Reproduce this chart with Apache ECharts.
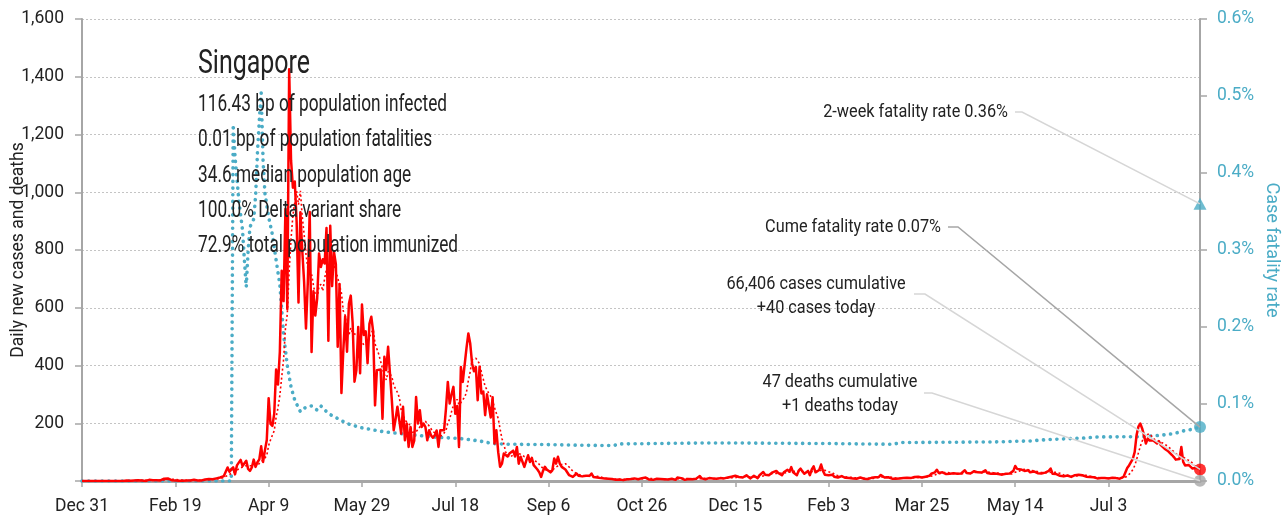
<!DOCTYPE html>
<html>
<head>
<meta charset="utf-8">
<title>Singapore – daily cases and case fatality rate</title>
<script src="https://cdn.jsdelivr.net/npm/echarts@6/dist/echarts.min.js"></script>
<style>
  html, body { margin: 0; padding: 0; background: #fff; }
  #chart { width: 1288px; height: 520px; }
</style>
</head>
<body>
<div id="chart"></div>
<script>
// ---------- data ----------
// day 0 = Dec 31, 2019; the last day (599) is Aug 21, 2021
const dayTicks = [0, 50, 100, 150, 200, 250, 300, 350, 400, 450, 500, 550];
const dayTickLabels = ['Dec 31', 'Feb 19', 'Apr 9', 'May 29', 'Jul 18', 'Sep 6',
                       'Oct 26', 'Dec 15', 'Feb 3', 'Mar 25', 'May 14', 'Jul 3'];
const caseTickLabels = ['', '200', '400', '600', '800', '1,000', '1,200', '1,400', '1,600'];
const rateTickLabels = ['0.0%', '0.1%', '0.2%', '0.3%', '0.4%', '0.5%', '0.6%'];

// daily new cases, one value per day from Dec 31, 2019
const cases = [
  0,
  // 2020 Jan
  0,0,0,0,0,0,0,0,0,0,0,0,0,0,0,0,0,0,0,0,0,0,1,2,0,1,1,2,3,3,3,
  // Feb
  2,2,0,6,4,2,3,7,3,2,2,3,8,9,9,5,3,3,2,4,1,3,1,1,2,0,2,3,4,
  // Mar
  2,2,2,2,8,5,7,7,3,6,12,9,13,12,14,17,23,47,32,40,47,23,54,49,73,52,49,70,42,35,47,
  // Apr
  74,49,65,75,120,66,106,142,287,198,191,233,386,334,447,728,623,942,596,1426,
  1111,1016,1037,897,618,931,799,690,528,690,
  // May
  932,447,657,573,632,788,741,768,753,876,486,884,675,793,752,465,682,305,451,570,
  448,614,642,548,344,383,533,373,611,506,518,
  // Jun
  408,544,569,517,262,384,389,386,216,430,384,465,372,280,176,214,257,262,164,257,
  141,199,118,187,118,140,291,199,245,187,
  // Jul
  199,187,141,176,158,150,158,175,118,176,170,176,250,343,268,300,326,233,260,118,
  395,343,349,460,511,476,407,380,395,280,395,
  // Aug
  303,310,228,300,300,220,290,130,176,100,49,60,95,90,85,95,100,105,85,118,
  60,84,90,49,70,89,66,80,55,60,40,
  // Sep
  30,14,35,49,40,37,30,37,78,60,84,60,49,49,40,37,20,25,14,20,26,18,14,16,14,18,14,18,26,14,
  // Oct
  9,12,8,10,6,9,6,8,5,7,9,4,6,5,8,3,4,6,10,7,5,9,4,6,8,10,15,12,7,5,6,
  // Nov
  4,6,8,5,7,3,6,9,5,4,8,6,4,12,18,10,6,4,5,7,9,6,4,8,12,17,9,5,6,8,
  // Dec
  10,7,9,12,8,6,10,14,9,8,12,10,15,9,18,22,14,10,12,16,20,14,9,12,18,14,10,20,24,31,22,
  // 2021 Jan
  28,20,26,30,24,35,28,25,20,30,34,39,32,48,30,25,20,36,43,33,25,30,35,20,40,51,30,25,38,57,35,
  // Feb
  22,25,20,18,22,15,17,12,14,17,13,11,13,10,12,9,11,8,10,12,9,8,10,7,9,11,10,13,
  // Mar
  17,14,21,15,12,10,13,9,8,11,8,10,9,12,10,8,11,13,10,12,14,11,15,13,12,17,15,20,18,25,20,
  // Apr
  30,39,28,25,30,31,24,28,25,20,27,31,25,21,26,30,37,28,22,26,30,34,39,30,25,29,33,37,28,30,
  // May
  25,21,26,31,24,21,22,28,25,22,26,25,35,52,42,37,40,43,35,38,37,30,34,33,28,27,30,26,27,29,31,
  // Jun
  35,43,25,22,24,20,18,21,16,17,19,15,14,16,20,25,22,18,20,17,15,12,14,10,13,12,9,11,10,8,
  // Jul
  10,12,9,14,11,13,10,12,8,6,14,20,45,54,60,77,100,158,188,199,182,158,130,147,140,136,140,135,130,138,124,
  // Aug 1 - 21
  118,112,106,103,100,90,83,74,72,76,118,66,54,60,55,50,43,48,46,42,40
];

// cumulative case fatality rate, % (day, value)
const fatalityRate = [
  [0, 0], [80, 0], [81, 0.463], [82, 0.421], [84, 0.365], [86, 0.326], [87, 0.287],
  [88, 0.252], [89, 0.300], [90, 0.330], [92, 0.340], [93, 0.370], [94, 0.426],
  [95, 0.469], [96, 0.504], [97, 0.417], [98, 0.374], [100, 0.343], [102, 0.320],
  [104, 0.287], [106, 0.255], [108, 0.190], [110, 0.150], [112, 0.122], [114, 0.105],
  [117, 0.090], [120, 0.096], [123, 0.0975], [126, 0.092], [128, 0.0975], [132, 0.0876],
  [142, 0.0746], [149, 0.0695], [160, 0.0646], [170, 0.0616], [181, 0.059], [187, 0.0572],
  [203, 0.0551], [213, 0.052], [220, 0.0486], [229, 0.0477], [249, 0.0473], [267, 0.0464],
  [285, 0.046], [287, 0.0481], [335, 0.0494], [347, 0.0494], [401, 0.0486], [435, 0.0477],
  [438, 0.0499], [488, 0.0507], [508, 0.052], [517, 0.0538], [535, 0.0555], [544, 0.0572],
  [568, 0.0575], [578, 0.0594], [585, 0.0616], [590, 0.065], [594, 0.0668], [599, 0.07]
];

const lastDay = 599;
const casesToday = 40;
const casesCumulative = 66406;
const deathsToday = 1;
const deathsCumulative = 47;
const cumeFatalityRate = 0.07;
const twoWeekFatalityRate = 0.36;

const countryName = 'Singapore';
const countryFacts = [
  '116.43 bp of population infected',
  '0.01 bp of population fatalities',
  '34.6 median population age',
  '100.0% Delta variant share',
  '72.9% total population immunized'
];

// ---------- derived series ----------
const dailySeries = cases.map((v, i) => [i, v]);
// trailing 7-day mean of daily cases
const weeklyMean = cases.map((v, i) => {
  const from = Math.max(0, i - 6);
  let s = 0;
  for (let k = from; k <= i; k++) s += cases[k];
  return [i, +(s / (i - from + 1)).toFixed(1)];
});

// ---------- style ----------
const FONT = "Roboto, 'Liberation Sans', sans-serif";
const INK = '#222222';
const RED = '#ff0000';
const BLUE = '#4bacc6';
const AXIS = '#a6a6a6';
const fmt = n => n.toLocaleString('en-US');

// condensed look for the text blocks: squeeze the text horizontally
const measureCtx = document.createElement('canvas').getContext('2d');
const textWidth = (text, size) => {
  measureCtx.font = `${size}px ${FONT}`;
  return measureCtx.measureText(text).width;
};
const TITLE_SIZE = 33, FACT_SIZE = 23, NOTE_SIZE = 19;
const titleScale = 112 / textWidth(countryName, TITLE_SIZE);
const factScale = 249 / textWidth(countryFacts[0], FACT_SIZE);
const noteScale = 155 / textWidth(`${deathsCumulative} deaths cumulative`, NOTE_SIZE);

const chart = echarts.init(document.getElementById('chart'), null, { renderer: 'canvas' });

chart.setOption({
  animation: false,
  backgroundColor: '#fff',
  textStyle: { fontFamily: FONT },
  grid: { left: 82, right: 88, top: 19, bottom: 39, containLabel: false, outerBoundsMode: 'none' },
  xAxis: {
    type: 'value',
    min: 0,
    max: lastDay,
    interval: 50,
    axisLine: { show: true, onZero: false, lineStyle: { color: AXIS, width: 3 } },
    axisTick: { show: true, length: 6, customValues: dayTicks, lineStyle: { color: AXIS, width: 1.5 } },
    axisLabel: {
      customValues: dayTicks,
      margin: 17,
      fontSize: 17.5,
      fontFamily: FONT,
      color: INK,
      formatter: v => { const i = dayTicks.indexOf(v); return i < 0 ? '' : dayTickLabels[i]; }
    },
    splitLine: { show: false }
  },
  yAxis: [
    {
      type: 'value',
      min: 0,
      max: 1600,
      interval: 200,
      name: 'Daily new cases and deaths',
      nameLocation: 'middle',
      nameGap: 54,
      nameMoveOverlap: false,
      nameTextStyle: { fontSize: 17.5, fontFamily: FONT, color: INK },
      axisLine: { show: true, lineStyle: { color: AXIS, width: 2 } },
      axisTick: { show: true, length: 7, lineStyle: { color: AXIS, width: 1.5 } },
      axisLabel: {
        margin: 18,
        fontSize: 17.5,
        fontFamily: FONT,
        color: INK,
        formatter: v => caseTickLabels[Math.round(v / 200)]
      },
      splitLine: { show: true, lineStyle: { color: '#c4c4c4', width: 1, type: [2, 2] } }
    },
    {
      type: 'value',
      min: 0,
      max: 0.6,
      interval: 0.1,
      position: 'right',
      name: 'Case fatality rate',
      nameLocation: 'middle',
      nameRotate: -90,
      nameGap: 62,
      nameMoveOverlap: false,
      nameTextStyle: { fontSize: 18, fontFamily: FONT, color: BLUE },
      axisLine: { show: true, lineStyle: { color: AXIS, width: 2 } },
      axisTick: { show: true, length: 7, lineStyle: { color: AXIS, width: 1.5 } },
      axisLabel: {
        margin: 17,
        fontSize: 17.5,
        fontFamily: FONT,
        color: BLUE,
        formatter: v => rateTickLabels[Math.round(v * 10)]
      },
      splitLine: { show: false }
    }
  ],
  series: [
    {
      name: 'Case fatality rate',
      type: 'line',
      yAxisIndex: 1,
      data: fatalityRate,
      showSymbol: false,
      lineStyle: { color: BLUE, width: 3.6, type: [0.1, 6.6], cap: 'round' },
      z: 2
    },
    {
      name: '7-day average',
      type: 'line',
      data: weeklyMean,
      showSymbol: false,
      lineStyle: { color: RED, width: 1.6, type: [2, 2.5] },
      z: 3
    },
    {
      name: 'Daily new cases',
      type: 'line',
      data: dailySeries,
      showSymbol: false,
      lineStyle: { color: RED, width: 2.5, join: 'round' },
      z: 4
    },
    {
      name: '2-week fatality rate',
      type: 'scatter',
      yAxisIndex: 1,
      data: [[lastDay, twoWeekFatalityRate]],
      symbol: 'triangle',
      symbolSize: [13, 12],
      itemStyle: { color: BLUE },
      clip: false,
      z: 6
    },
    {
      name: 'Cume fatality rate',
      type: 'scatter',
      yAxisIndex: 1,
      data: [[lastDay, cumeFatalityRate]],
      symbolSize: 12,
      itemStyle: { color: BLUE },
      clip: false,
      z: 6
    },
    {
      name: 'Cases today',
      type: 'scatter',
      data: [[lastDay, casesToday]],
      symbolSize: 12,
      itemStyle: { color: RED },
      clip: false,
      z: 6
    },
    {
      name: 'Deaths today',
      type: 'scatter',
      data: [[lastDay, deathsToday]],
      symbolSize: 12,
      itemStyle: { color: AXIS },
      clip: false,
      z: 6
    }
  ]
});

// ---------- annotations ----------
const px = (seriesIndex, value) => chart.convertToPixel({ seriesIndex }, value);
const triPt = px(3, [lastDay, twoWeekFatalityRate]);
const cumePt = px(4, [lastDay, cumeFatalityRate]);
const casePt = px(5, [lastDay, casesToday]);
const deathPt = px(6, [lastDay, deathsToday]);

const label = (text, x, y, size, scale, align = 'left') => ({
  type: 'text',
  x, y,
  scaleX: scale,
  z: 20,
  style: {
    text,
    fill: INK,
    fontSize: size,
    fontFamily: FONT,
    align,
    verticalAlign: 'middle'
  }
});

const leader = (points, color) => ({
  type: 'polyline',
  z: 10,
  shape: { points },
  style: { stroke: color, lineWidth: 1.5, fill: null }
});

const graphics = [
  label(countryName, 198, 65, TITLE_SIZE, titleScale),
  ...countryFacts.map((t, i) => label(t, 198, 105.5 + i * 35.2, FACT_SIZE, factScale)),

  label(`2-week fatality rate ${twoWeekFatalityRate.toFixed(2)}%`, 1008, 112, NOTE_SIZE, noteScale, 'right'),
  leader([[1015, 112], [1022, 112], triPt], '#d6d6d6'),

  label(`Cume fatality rate ${cumeFatalityRate.toFixed(2)}%`, 941, 227, NOTE_SIZE, noteScale, 'right'),
  leader([[948, 227], [958, 227], cumePt], '#a6a6a6'),

  label(`${fmt(casesCumulative)} cases cumulative`, 816, 284, NOTE_SIZE, noteScale, 'center'),
  label(`+${fmt(casesToday)} cases today`, 816, 308, NOTE_SIZE, noteScale, 'center'),
  leader([[914, 294], [925, 294], casePt], '#d6d6d6'),

  label(`${fmt(deathsCumulative)} deaths cumulative`, 840, 382, NOTE_SIZE, noteScale, 'center'),
  label(`+${fmt(deathsToday)} deaths today`, 840, 406, NOTE_SIZE, noteScale, 'center'),
  leader([[924, 393], [932, 393], deathPt], '#d6d6d6')
];

chart.setOption({ graphic: graphics });
</script>
</body>
</html>
